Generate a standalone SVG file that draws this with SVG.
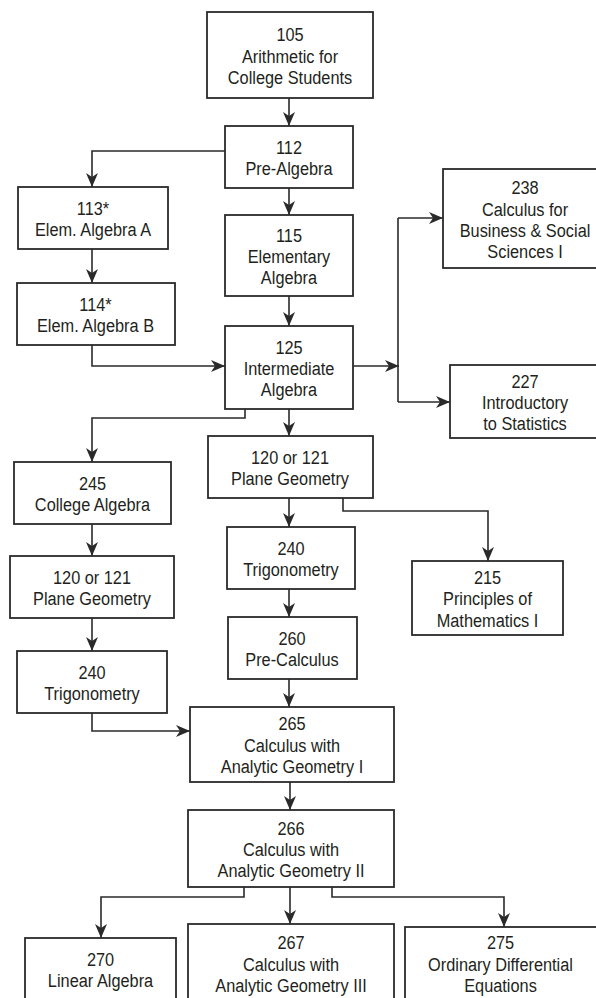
<svg xmlns="http://www.w3.org/2000/svg" width="596" height="998" viewBox="0 0 596 998">
<style>
.box{fill:#fff;stroke:#2a2a2a;stroke-width:1.8}
.t{font-family:"Liberation Sans",Arial,sans-serif;font-size:19px;fill:#231f20;text-anchor:middle}
.c{fill:none;stroke:#2a2a2a;stroke-width:1.6}
</style>
<defs>
<marker id="ah" markerUnits="userSpaceOnUse" viewBox="0 0 14 12" refX="14" refY="6" markerWidth="14" markerHeight="12" orient="auto">
<path d="M0,0 L14,6 L0,12 L4,6 Z" fill="#2a2a2a"/>
</marker>
</defs>
<rect width="596" height="998" fill="#fff"/>
<g id="connectors">
<path class="c" marker-end="url(#ah)" d="M289,98 V126"/>
<path class="c" marker-end="url(#ah)" d="M225,151 H92 V187"/>
<path class="c" marker-end="url(#ah)" d="M289,188 V215"/>
<path class="c" marker-end="url(#ah)" d="M92,249 V283"/>
<path class="c" marker-end="url(#ah)" d="M92,345 V366 H225"/>
<path class="c" marker-end="url(#ah)" d="M289,296 V326"/>
<path class="c" marker-end="url(#ah)" d="M353,366 H399"/>
<path class="c" d="M398,218 V402"/>
<path class="c" marker-end="url(#ah)" d="M398,218 H443"/>
<path class="c" marker-end="url(#ah)" d="M398,402 H450"/>
<path class="c" marker-end="url(#ah)" d="M245,409 V418 H92 V462"/>
<path class="c" marker-end="url(#ah)" d="M289,409 V436"/>
<path class="c" marker-end="url(#ah)" d="M92,524 V556"/>
<path class="c" marker-end="url(#ah)" d="M289,498 V527"/>
<path class="c" marker-end="url(#ah)" d="M343,498 V511 H488 V561"/>
<path class="c" marker-end="url(#ah)" d="M289,589 V617"/>
<path class="c" marker-end="url(#ah)" d="M92,618 V651"/>
<path class="c" marker-end="url(#ah)" d="M289,679 V707"/>
<path class="c" marker-end="url(#ah)" d="M92,713 V731 H190"/>
<path class="c" marker-end="url(#ah)" d="M290,782 V810"/>
<path class="c" marker-end="url(#ah)" d="M244,887 V897 H101 V938"/>
<path class="c" marker-end="url(#ah)" d="M290,887 V924"/>
<path class="c" marker-end="url(#ah)" d="M332,887 V897 H504 V927"/>
</g>
<g id="n105"><rect class="box" x="207" y="12" width="166" height="86"/>
<text class="t" transform="translate(290,0) scale(0.86,1)"><tspan x="0" y="41.5">105</tspan><tspan x="0" y="63">Arithmetic for</tspan><tspan x="0" y="84.3">College Students</tspan></text></g>
<g id="n112"><rect class="box" x="225" y="126" width="128" height="62"/>
<text class="t" transform="translate(289,0) scale(0.86,1)"><tspan x="0" y="154">112</tspan><tspan x="0" y="175.3">Pre-Algebra</tspan></text></g>
<g id="n113"><rect class="box" x="18" y="187" width="150" height="62"/>
<text class="t" transform="translate(93,0) scale(0.86,1)"><tspan x="0" y="215">113*</tspan><tspan x="0" y="236.3">Elem. Algebra A</tspan></text></g>
<g id="n114"><rect class="box" x="17" y="283" width="158" height="62"/>
<text class="t" transform="translate(95.5,0) scale(0.86,1)"><tspan x="0" y="311">114*</tspan><tspan x="0" y="332.3">Elem. Algebra B</tspan></text></g>
<g id="n115"><rect class="box" x="225" y="215" width="128" height="81"/>
<text class="t" transform="translate(289,0) scale(0.86,1)"><tspan x="0" y="241.8">115</tspan><tspan x="0" y="263.1">Elementary</tspan><tspan x="0" y="284.4">Algebra</tspan></text></g>
<g id="n125"><rect class="box" x="225" y="326" width="128" height="83"/>
<text class="t" transform="translate(289,0) scale(0.86,1)"><tspan x="0" y="353.7">125</tspan><tspan x="0" y="375">Intermediate</tspan><tspan x="0" y="396.3">Algebra</tspan></text></g>
<g id="n238"><rect class="box" x="443" y="169" width="170" height="99"/>
<text class="t" transform="translate(525,0) scale(0.86,1)"><tspan x="0" y="194.3">238</tspan><tspan x="0" y="215.6">Calculus for</tspan><tspan x="0" y="236.9">Business &amp; Social</tspan><tspan x="0" y="258.2">Sciences I</tspan></text></g>
<g id="n227"><rect class="box" x="450" y="365" width="160" height="73"/>
<text class="t" transform="translate(525,0) scale(0.86,1)"><tspan x="0" y="387.7">227</tspan><tspan x="0" y="409">Introductory</tspan><tspan x="0" y="430.3">to Statistics</tspan></text></g>
<g id="n245"><rect class="box" x="14" y="462" width="157" height="62"/>
<text class="t" transform="translate(92.5,0) scale(0.86,1)"><tspan x="0" y="490">245</tspan><tspan x="0" y="511.3">College Algebra</tspan></text></g>
<g id="n120r"><rect class="box" x="208" y="436" width="165" height="62"/>
<text class="t" transform="translate(290,0) scale(0.86,1)"><tspan x="0" y="464">120 or 121</tspan><tspan x="0" y="485.3">Plane Geometry</tspan></text></g>
<g id="n120l"><rect class="box" x="10" y="556" width="164" height="62"/>
<text class="t" transform="translate(92,0) scale(0.86,1)"><tspan x="0" y="584">120 or 121</tspan><tspan x="0" y="605.3">Plane Geometry</tspan></text></g>
<g id="n240r"><rect class="box" x="227" y="527" width="128" height="62"/>
<text class="t" transform="translate(291,0) scale(0.86,1)"><tspan x="0" y="555">240</tspan><tspan x="0" y="576.3">Trigonometry</tspan></text></g>
<g id="n215"><rect class="box" x="412" y="561" width="151" height="74"/>
<text class="t" transform="translate(487.5,0) scale(0.86,1)"><tspan x="0" y="584.2">215</tspan><tspan x="0" y="605.5">Principles of</tspan><tspan x="0" y="626.8">Mathematics I</tspan></text></g>
<g id="n260"><rect class="box" x="228" y="617" width="129" height="62"/>
<text class="t" transform="translate(292,0) scale(0.86,1)"><tspan x="0" y="645">260</tspan><tspan x="0" y="666.3">Pre-Calculus</tspan></text></g>
<g id="n240l"><rect class="box" x="17" y="651" width="150" height="62"/>
<text class="t" transform="translate(92,0) scale(0.86,1)"><tspan x="0" y="679">240</tspan><tspan x="0" y="700.3">Trigonometry</tspan></text></g>
<g id="n265"><rect class="box" x="190" y="707" width="204" height="75"/>
<text class="t" transform="translate(292,0) scale(0.86,1)"><tspan x="0" y="730.5">265</tspan><tspan x="0" y="751.8">Calculus with</tspan><tspan x="0" y="773.1">Analytic Geometry I</tspan></text></g>
<g id="n266"><rect class="box" x="188" y="810" width="206" height="77"/>
<text class="t" transform="translate(291,0) scale(0.86,1)"><tspan x="0" y="834.7">266</tspan><tspan x="0" y="856">Calculus with</tspan><tspan x="0" y="877.3">Analytic Geometry II</tspan></text></g>
<g id="n270"><rect class="box" x="25" y="938" width="151" height="80"/>
<text class="t" transform="translate(100.5,0) scale(0.86,1)"><tspan x="0" y="965.7">270</tspan><tspan x="0" y="987">Linear Algebra</tspan></text></g>
<g id="n267"><rect class="box" x="188" y="924" width="206" height="90"/>
<text class="t" transform="translate(291,0) scale(0.86,1)"><tspan x="0" y="949.5">267</tspan><tspan x="0" y="970.8">Calculus with</tspan><tspan x="0" y="992.1">Analytic Geometry III</tspan></text></g>
<g id="n275"><rect class="box" x="405" y="927" width="210" height="90"/>
<text class="t" transform="translate(500.5,0) scale(0.86,1)"><tspan x="0" y="949.5">275</tspan><tspan x="0" y="970.8">Ordinary Differential</tspan><tspan x="0" y="992.1">Equations</tspan></text></g>
</svg>
